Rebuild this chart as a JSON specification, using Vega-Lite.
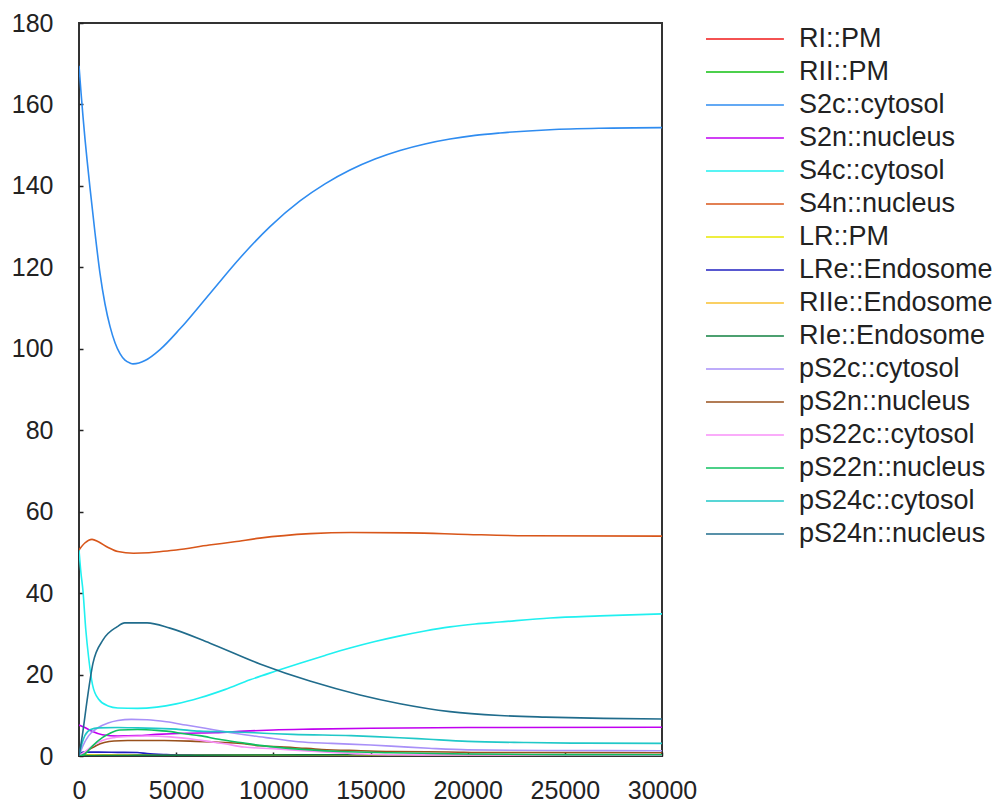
{
  "$schema": "https://vega.github.io/schema/vega-lite/v6.json",
  "width": 583,
  "height": 733,
  "autosize": {"type": "none"},
  "padding": {"left": 79, "top": 23, "right": 339, "bottom": 47},
  "background": "white",
  "config": {
    "view": {"stroke": "#333", "strokeWidth": 2},
    "font": "Liberation Sans",
    "axis": {"grid": false, "domain": false, "labelFont": "Liberation Sans", "labelFontSize": 25, "labelColor": "#222", "tickColor": "#222", "tickWidth": 1.5, "title": null, "labelOverlap": false, "labelFlush": false}
  },
  "data": {"values": [
    {"t":0,"s":"RI::PM","v":0.2},{"t":1000,"s":"RI::PM","v":0.15},{"t":30000,"s":"RI::PM","v":0.1},
    {"t":0,"s":"RII::PM","v":0.3},{"t":1000,"s":"RII::PM","v":0.2},{"t":30000,"s":"RII::PM","v":0.2},
    {"t":0,"s":"S2c::cytosol","v":169.5},{"t":103,"s":"S2c::cytosol","v":163},{"t":206,"s":"S2c::cytosol","v":157},{"t":309,"s":"S2c::cytosol","v":151.5},{"t":412,"s":"S2c::cytosol","v":146.5},{"t":566,"s":"S2c::cytosol","v":139.5},{"t":823,"s":"S2c::cytosol","v":128.5},{"t":1081,"s":"S2c::cytosol","v":118.5},{"t":1338,"s":"S2c::cytosol","v":111},{"t":1595,"s":"S2c::cytosol","v":105.5},{"t":1853,"s":"S2c::cytosol","v":101.5},{"t":2110,"s":"S2c::cytosol","v":98.8},{"t":2367,"s":"S2c::cytosol","v":97.2},{"t":2624,"s":"S2c::cytosol","v":96.5},{"t":2779,"s":"S2c::cytosol","v":96.3},{"t":3085,"s":"S2c::cytosol","v":96.5},{"t":3396,"s":"S2c::cytosol","v":97.1},{"t":4168,"s":"S2c::cytosol","v":99.8},{"t":5197,"s":"S2c::cytosol","v":104.9},{"t":6741,"s":"S2c::cytosol","v":113.6},{"t":8285,"s":"S2c::cytosol","v":122.3},{"t":9829,"s":"S2c::cytosol","v":130.0},{"t":11372,"s":"S2c::cytosol","v":136.3},{"t":12659,"s":"S2c::cytosol","v":140.5},{"t":13945,"s":"S2c::cytosol","v":143.9},{"t":15232,"s":"S2c::cytosol","v":146.6},{"t":16518,"s":"S2c::cytosol","v":148.7},{"t":17805,"s":"S2c::cytosol","v":150.3},{"t":19091,"s":"S2c::cytosol","v":151.5},{"t":20378,"s":"S2c::cytosol","v":152.4},{"t":21664,"s":"S2c::cytosol","v":153.0},{"t":24237,"s":"S2c::cytosol","v":153.8},{"t":26810,"s":"S2c::cytosol","v":154.15},{"t":30000,"s":"S2c::cytosol","v":154.3},
    {"t":0,"s":"S2n::nucleus","v":7.6},{"t":300,"s":"S2n::nucleus","v":7.0},{"t":700,"s":"S2n::nucleus","v":6.0},{"t":1200,"s":"S2n::nucleus","v":5.2},{"t":2000,"s":"S2n::nucleus","v":4.9},{"t":3000,"s":"S2n::nucleus","v":5.0},{"t":4000,"s":"S2n::nucleus","v":5.3},{"t":5500,"s":"S2n::nucleus","v":5.6},{"t":7000,"s":"S2n::nucleus","v":5.7},{"t":8500,"s":"S2n::nucleus","v":6.1},{"t":10000,"s":"S2n::nucleus","v":6.4},{"t":12000,"s":"S2n::nucleus","v":6.6},{"t":15000,"s":"S2n::nucleus","v":6.8},{"t":20000,"s":"S2n::nucleus","v":7.0},{"t":30000,"s":"S2n::nucleus","v":7.05},
    {"t":0,"s":"S4c::cytosol","v":50.6},{"t":100,"s":"S4c::cytosol","v":45},{"t":200,"s":"S4c::cytosol","v":40.8},{"t":350,"s":"S4c::cytosol","v":31},{"t":500,"s":"S4c::cytosol","v":24},{"t":700,"s":"S4c::cytosol","v":17.4},{"t":1000,"s":"S4c::cytosol","v":14},{"t":1500,"s":"S4c::cytosol","v":12.3},{"t":2000,"s":"S4c::cytosol","v":11.8},{"t":3000,"s":"S4c::cytosol","v":11.7},{"t":4000,"s":"S4c::cytosol","v":12},{"t":5000,"s":"S4c::cytosol","v":12.8},{"t":6226,"s":"S4c::cytosol","v":14.3},{"t":7500,"s":"S4c::cytosol","v":16.3},{"t":8800,"s":"S4c::cytosol","v":18.7},{"t":10090,"s":"S4c::cytosol","v":20.8},{"t":11370,"s":"S4c::cytosol","v":22.8},{"t":12660,"s":"S4c::cytosol","v":24.7},{"t":13945,"s":"S4c::cytosol","v":26.5},{"t":15230,"s":"S4c::cytosol","v":28.1},{"t":16520,"s":"S4c::cytosol","v":29.5},{"t":17800,"s":"S4c::cytosol","v":30.7},{"t":19090,"s":"S4c::cytosol","v":31.7},{"t":20380,"s":"S4c::cytosol","v":32.4},{"t":21660,"s":"S4c::cytosol","v":32.9},{"t":24240,"s":"S4c::cytosol","v":33.9},{"t":26800,"s":"S4c::cytosol","v":34.4},{"t":30000,"s":"S4c::cytosol","v":34.9},
    {"t":0,"s":"S4n::nucleus","v":50.6},{"t":300,"s":"S4n::nucleus","v":52.3},{"t":670,"s":"S4n::nucleus","v":53.2},{"t":1000,"s":"S4n::nucleus","v":52.6},{"t":1500,"s":"S4n::nucleus","v":51.2},{"t":2000,"s":"S4n::nucleus","v":50.2},{"t":2800,"s":"S4n::nucleus","v":49.8},{"t":3600,"s":"S4n::nucleus","v":49.9},{"t":4000,"s":"S4n::nucleus","v":50.1},{"t":5000,"s":"S4n::nucleus","v":50.6},{"t":6700,"s":"S4n::nucleus","v":51.8},{"t":8000,"s":"S4n::nucleus","v":52.6},{"t":9300,"s":"S4n::nucleus","v":53.5},{"t":11900,"s":"S4n::nucleus","v":54.6},{"t":14000,"s":"S4n::nucleus","v":54.9},{"t":17000,"s":"S4n::nucleus","v":54.8},{"t":20000,"s":"S4n::nucleus","v":54.4},{"t":23000,"s":"S4n::nucleus","v":54.1},{"t":30000,"s":"S4n::nucleus","v":54.0},
    {"t":0,"s":"LR::PM","v":0.0},{"t":500,"s":"LR::PM","v":0.2},{"t":3000,"s":"LR::PM","v":0.1},{"t":30000,"s":"LR::PM","v":0.05},
    {"t":0,"s":"LRe::Endosome","v":0},{"t":100,"s":"LRe::Endosome","v":0.8},{"t":250,"s":"LRe::Endosome","v":0.95},{"t":1000,"s":"LRe::Endosome","v":0.95},{"t":2000,"s":"LRe::Endosome","v":0.9},{"t":3000,"s":"LRe::Endosome","v":0.85},{"t":3500,"s":"LRe::Endosome","v":0.6},{"t":4500,"s":"LRe::Endosome","v":0.35},{"t":6000,"s":"LRe::Endosome","v":0.2},{"t":8000,"s":"LRe::Endosome","v":0.12},{"t":12000,"s":"LRe::Endosome","v":0.06},{"t":30000,"s":"LRe::Endosome","v":0.03},
    {"t":0,"s":"RIIe::Endosome","v":0},{"t":500,"s":"RIIe::Endosome","v":0.1},{"t":30000,"s":"RIIe::Endosome","v":0.1},
    {"t":0,"s":"RIe::Endosome","v":0},{"t":500,"s":"RIe::Endosome","v":0.05},{"t":1200,"s":"RIe::Endosome","v":0.1},{"t":3000,"s":"RIe::Endosome","v":0.15},{"t":6000,"s":"RIe::Endosome","v":0.2},{"t":10000,"s":"RIe::Endosome","v":0.25},{"t":15000,"s":"RIe::Endosome","v":0.3},{"t":30000,"s":"RIe::Endosome","v":0.3},
    {"t":0,"s":"pS2c::cytosol","v":0},{"t":200,"s":"pS2c::cytosol","v":2.5},{"t":500,"s":"pS2c::cytosol","v":5},{"t":1000,"s":"pS2c::cytosol","v":7},{"t":1500,"s":"pS2c::cytosol","v":8.1},{"t":2000,"s":"pS2c::cytosol","v":8.7},{"t":2700,"s":"pS2c::cytosol","v":9.0},{"t":3500,"s":"pS2c::cytosol","v":8.9},{"t":4500,"s":"pS2c::cytosol","v":8.4},{"t":5500,"s":"pS2c::cytosol","v":7.6},{"t":6500,"s":"pS2c::cytosol","v":6.8},{"t":8000,"s":"pS2c::cytosol","v":5.6},{"t":9000,"s":"pS2c::cytosol","v":4.9},{"t":10000,"s":"pS2c::cytosol","v":4.3},{"t":11300,"s":"pS2c::cytosol","v":3.5},{"t":13000,"s":"pS2c::cytosol","v":3.1},{"t":15000,"s":"pS2c::cytosol","v":2.7},{"t":16500,"s":"pS2c::cytosol","v":2.3},{"t":18000,"s":"pS2c::cytosol","v":1.9},{"t":20000,"s":"pS2c::cytosol","v":1.5},{"t":24000,"s":"pS2c::cytosol","v":1.35},{"t":30000,"s":"pS2c::cytosol","v":1.3},
    {"t":0,"s":"pS2n::nucleus","v":0},{"t":300,"s":"pS2n::nucleus","v":0.9},{"t":600,"s":"pS2n::nucleus","v":1.8},{"t":900,"s":"pS2n::nucleus","v":2.6},{"t":1300,"s":"pS2n::nucleus","v":3.3},{"t":1800,"s":"pS2n::nucleus","v":3.7},{"t":2500,"s":"pS2n::nucleus","v":3.8},{"t":4400,"s":"pS2n::nucleus","v":3.8},{"t":6000,"s":"pS2n::nucleus","v":3.6},{"t":7500,"s":"pS2n::nucleus","v":3.3},{"t":8500,"s":"pS2n::nucleus","v":3.0},{"t":9300,"s":"pS2n::nucleus","v":2.5},{"t":11000,"s":"pS2n::nucleus","v":2.1},{"t":12500,"s":"pS2n::nucleus","v":1.6},{"t":14500,"s":"pS2n::nucleus","v":1.3},{"t":16000,"s":"pS2n::nucleus","v":1.1},{"t":19000,"s":"pS2n::nucleus","v":1.0},{"t":21000,"s":"pS2n::nucleus","v":0.85},{"t":30000,"s":"pS2n::nucleus","v":0.8},
    {"t":0,"s":"pS22c::cytosol","v":0},{"t":300,"s":"pS22c::cytosol","v":1.0},{"t":700,"s":"pS22c::cytosol","v":2.5},{"t":1200,"s":"pS22c::cytosol","v":3.8},{"t":1800,"s":"pS22c::cytosol","v":4.5},{"t":2500,"s":"pS22c::cytosol","v":4.8},{"t":3500,"s":"pS22c::cytosol","v":4.9},{"t":4700,"s":"pS22c::cytosol","v":4.7},{"t":6200,"s":"pS22c::cytosol","v":3.9},{"t":7500,"s":"pS22c::cytosol","v":3.0},{"t":8500,"s":"pS22c::cytosol","v":2.2},{"t":10000,"s":"pS22c::cytosol","v":1.8},{"t":11500,"s":"pS22c::cytosol","v":1.3},{"t":13000,"s":"pS22c::cytosol","v":0.9},{"t":14500,"s":"pS22c::cytosol","v":0.5},{"t":16500,"s":"pS22c::cytosol","v":0.3},{"t":20000,"s":"pS22c::cytosol","v":0.25},{"t":30000,"s":"pS22c::cytosol","v":0.2},
    {"t":0,"s":"pS22n::nucleus","v":0},{"t":300,"s":"pS22n::nucleus","v":0.5},{"t":700,"s":"pS22n::nucleus","v":2.5},{"t":1200,"s":"pS22n::nucleus","v":4.5},{"t":1600,"s":"pS22n::nucleus","v":5.6},{"t":2100,"s":"pS22n::nucleus","v":6.4},{"t":3000,"s":"pS22n::nucleus","v":6.5},{"t":4000,"s":"pS22n::nucleus","v":6.3},{"t":4500,"s":"pS22n::nucleus","v":6.1},{"t":5500,"s":"pS22n::nucleus","v":5.4},{"t":6200,"s":"pS22n::nucleus","v":5.0},{"t":7200,"s":"pS22n::nucleus","v":4.1},{"t":8300,"s":"pS22n::nucleus","v":3.3},{"t":9300,"s":"pS22n::nucleus","v":2.6},{"t":10500,"s":"pS22n::nucleus","v":2.0},{"t":11900,"s":"pS22n::nucleus","v":1.5},{"t":13500,"s":"pS22n::nucleus","v":1.1},{"t":16000,"s":"pS22n::nucleus","v":0.8},{"t":20000,"s":"pS22n::nucleus","v":0.5},{"t":25000,"s":"pS22n::nucleus","v":0.35},{"t":30000,"s":"pS22n::nucleus","v":0.3},
    {"t":0,"s":"pS24c::cytosol","v":0},{"t":150,"s":"pS24c::cytosol","v":3},{"t":300,"s":"pS24c::cytosol","v":5},{"t":600,"s":"pS24c::cytosol","v":6.5},{"t":1000,"s":"pS24c::cytosol","v":6.9},{"t":2000,"s":"pS24c::cytosol","v":7.0},{"t":3000,"s":"pS24c::cytosol","v":6.9},{"t":5000,"s":"pS24c::cytosol","v":6.6},{"t":6200,"s":"pS24c::cytosol","v":6.1},{"t":8000,"s":"pS24c::cytosol","v":5.9},{"t":9500,"s":"pS24c::cytosol","v":5.6},{"t":11000,"s":"pS24c::cytosol","v":5.3},{"t":14000,"s":"pS24c::cytosol","v":5.0},{"t":16500,"s":"pS24c::cytosol","v":4.5},{"t":18000,"s":"pS24c::cytosol","v":4.1},{"t":20000,"s":"pS24c::cytosol","v":3.6},{"t":23000,"s":"pS24c::cytosol","v":3.3},{"t":26000,"s":"pS24c::cytosol","v":3.15},{"t":30000,"s":"pS24c::cytosol","v":3.1},
    {"t":0,"s":"pS24n::nucleus","v":0},{"t":200,"s":"pS24n::nucleus","v":6},{"t":420,"s":"pS24n::nucleus","v":13.8},{"t":720,"s":"pS24n::nucleus","v":22.8},{"t":1235,"s":"pS24n::nucleus","v":28.5},{"t":1950,"s":"pS24n::nucleus","v":31.7},{"t":2350,"s":"pS24n::nucleus","v":32.7},{"t":3500,"s":"pS24n::nucleus","v":32.7},{"t":4680,"s":"pS24n::nucleus","v":31.4},{"t":6740,"s":"pS24n::nucleus","v":27.7},{"t":9310,"s":"pS24n::nucleus","v":22.6},{"t":11880,"s":"pS24n::nucleus","v":18.4},{"t":14460,"s":"pS24n::nucleus","v":15.0},{"t":16520,"s":"pS24n::nucleus","v":12.85},{"t":19090,"s":"pS24n::nucleus","v":10.9},{"t":21660,"s":"pS24n::nucleus","v":9.95},{"t":24000,"s":"pS24n::nucleus","v":9.55},{"t":27000,"s":"pS24n::nucleus","v":9.25},{"t":30000,"s":"pS24n::nucleus","v":9.1}
  ]},
  "mark": {"type": "line", "strokeWidth": 1.6, "clip": true, "interpolate": "monotone"},
  "encoding": {
    "x": {"field": "t", "type": "quantitative", "scale": {"domain": [0, 30000], "nice": false}, "axis": {"values": [0,5000,10000,15000,20000,25000,30000], "format": "d", "tickSize": -4, "labelPadding": 26}},
    "y": {"field": "v", "type": "quantitative", "scale": {"domain": [0, 180], "nice": false}, "axis": {"values": [0,20,40,60,80,100,120,140,160,180], "tickSize": -4, "labelPadding": 30}},
    "color": {"field": "s", "type": "nominal",
      "scale": {
        "domain": ["RI::PM","RII::PM","S2c::cytosol","S2n::nucleus","S4c::cytosol","S4n::nucleus","LR::PM","LRe::Endosome","RIIe::Endosome","RIe::Endosome","pS2c::cytosol","pS2n::nucleus","pS22c::cytosol","pS22n::nucleus","pS24c::cytosol","pS24n::nucleus"],
        "range": ["#f01818","#10c010","#2f8cf0","#c000f0","#20f0f0","#d8561a","#e8e800","#2020c0","#f8c030","#108040","#a890f8","#98501c","#f890f8","#10c060","#20c8c8","#206c8c"]
      },
      "legend": {"title": null, "orient": "none", "legendX": 626, "legendY": -4, "symbolType": "M-1,0H3.1", "symbolSize": 1444, "symbolStrokeWidth": 1.6, "labelFont": "Liberation Sans", "labelFontSize": 27, "labelColor": "#222", "labelOffset": 54, "rowPadding": 0, "labelLimit": 400}
    },
    "order": {"field": "t", "type": "quantitative"}
  }
}
